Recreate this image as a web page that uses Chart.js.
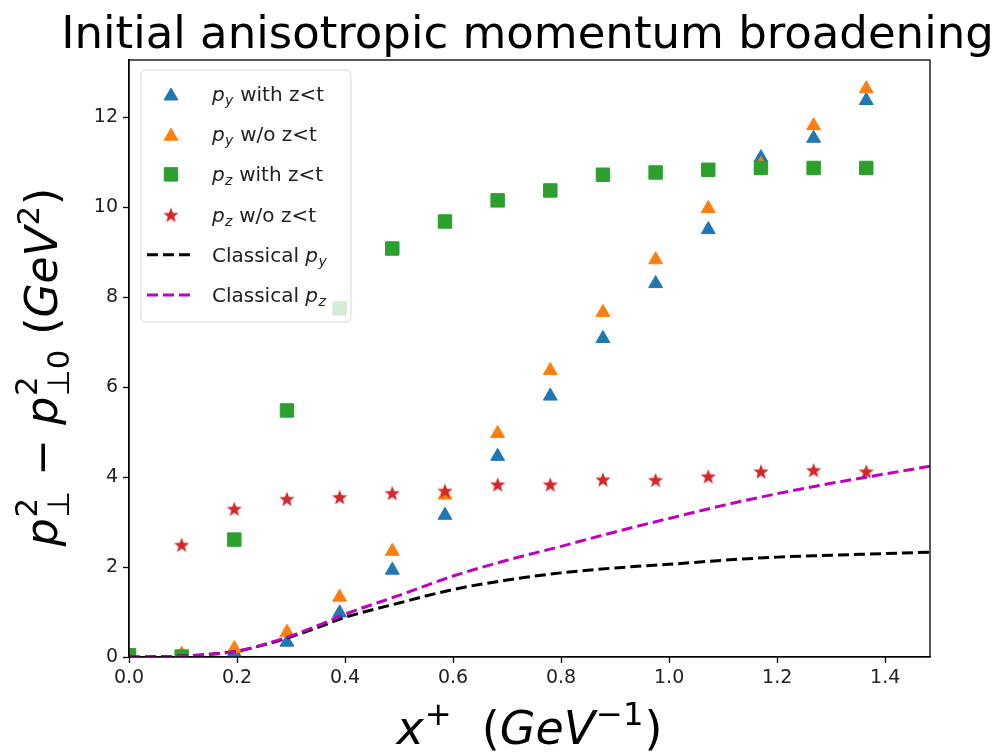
<!DOCTYPE html>
<html lang="en">
<head>
<meta charset="UTF-8" />
<title>Initial anisotropic momentum broadening</title>
<style>
  body { margin: 0; background: #fff; }
  canvas { display: block; }
</style>
</head>
<body>
<canvas id="myChart" width="997" height="752"></canvas>

<script src="https://cdn.jsdelivr.net/npm/chart.js"></script>
<script>
  // x+ (GeV^-1) where the markers sit
  const xPoints = [0, 0.0975, 0.195, 0.2925, 0.39, 0.4875, 0.585, 0.6825, 0.78, 0.8775, 0.975, 1.0725, 1.17, 1.2675, 1.365];
  const pyWith = [0, 0.02, 0.1, 0.33, 0.98, 1.93, 3.15, 4.46, 5.8, 7.08, 8.3, 9.5, 11.1, 11.53, 12.37];
  const pyWithout = [0, 0.06, 0.19, 0.55, 1.33, 2.35, 3.6, 4.97, 6.37, 7.66, 8.83, 9.97, 10.95, 11.81, 12.63];
  const pzWith = [0.04, 0.01, 2.61, 5.48, 7.75, 9.08, 9.68, 10.15, 10.37, 10.72, 10.77, 10.83, 10.87, 10.87, 10.87];
  const pzWithout = [0, 2.5, 3.3, 3.52, 3.56, 3.65, 3.7, 3.84, 3.84, 3.95, 3.94, 4.02, 4.13, 4.16, 4.13];

  // classical curves
  const curveX = [0, 0.05, 0.1, 0.15, 0.2, 0.25, 0.3, 0.35, 0.4, 0.5, 0.6, 0.7, 0.8, 0.9, 1.0, 1.1, 1.2, 1.3, 1.4, 1.483];
  const classicalPy = [0, 0.003, 0.02, 0.06, 0.13, 0.27, 0.45, 0.66, 0.88, 1.2, 1.5, 1.71, 1.87, 1.98, 2.06, 2.15, 2.22, 2.26, 2.3, 2.33];
  const classicalPz = [0, 0.003, 0.02, 0.06, 0.13, 0.28, 0.47, 0.7, 0.95, 1.37, 1.8, 2.15, 2.46, 2.78, 3.08, 3.37, 3.63, 3.86, 4.07, 4.24];

  const xTicks = [0, 0.2, 0.4, 0.6, 0.8, 1.0, 1.2, 1.4];
  const yTicks = [0, 2, 4, 6, 8, 10, 12];

  const BLUE = "#1f77b4", ORANGE = "#ff7f0e", GREEN = "#2ca02c", RED = "#d62728", MAG = "#bf00bf";
  const FONT = '"DejaVu Sans", sans-serif';
  const DASH = [11, 5];

  const toXY = (xs, ys) => xs.map((x, i) => ({ x: x, y: ys[i] }));

  // filled 5 point star like matplotlib's '*'
  function makeStar(r, color) {
    const c = document.createElement("canvas");
    const s = Math.ceil(r * 2 + 4);
    c.width = s; c.height = s;
    const g = c.getContext("2d");
    g.beginPath();
    for (let i = 0; i < 10; i++) {
      const a = -Math.PI / 2 + i * Math.PI / 5;
      const rr = i % 2 ? r * 0.42 : r;
      g.lineTo(s / 2 + rr * Math.cos(a), s / 2 + 1 + rr * Math.sin(a));
    }
    g.closePath();
    g.fillStyle = color;
    g.fill();
    return c;
  }
  const starImg = makeStar(8, RED);

  // small mathtext-ish renderer: segments of text, sub and superscripts
  function segFont(size, it) { return (it ? "italic " : "") + size + "px " + FONT; }
  function segsWidth(ctx, segs, size) {
    let w = 0;
    segs.forEach((s) => {
      if (s.t !== undefined) {
        ctx.font = segFont(size, s.it);
        w += ctx.measureText(s.t).width;
      } else {
        let a = 0, b = 0;
        if (s.sup) { ctx.font = segFont(size * 0.7, s.supIt); a = ctx.measureText(s.sup).width; }
        if (s.sub) { ctx.font = segFont(size * 0.7, s.subIt); b = ctx.measureText(s.sub).width; }
        w += Math.max(a, b) + size * 0.04;
      }
    });
    return w;
  }
  function drawSegs(ctx, segs, x, y, size) {
    ctx.textAlign = "left";
    ctx.textBaseline = "alphabetic";
    segs.forEach((s) => {
      if (s.t !== undefined) {
        ctx.font = segFont(size, s.it);
        ctx.fillText(s.t, x, y);
        x += ctx.measureText(s.t).width;
      } else {
        const both = s.sup && s.sub;
        let a = 0, b = 0;
        if (s.sup) {
          ctx.font = segFont(size * 0.7, s.supIt);
          ctx.fillText(s.sup, x + size * 0.02, y - size * (both ? 0.45 : 0.42));
          a = ctx.measureText(s.sup).width;
        }
        if (s.sub) {
          ctx.font = segFont(size * 0.7, s.subIt);
          ctx.fillText(s.sub, x + size * 0.02, y + size * (both ? 0.28 : 0.2));
          b = ctx.measureText(s.sub).width;
        }
        x += Math.max(a, b) + size * 0.04;
      }
    });
  }

  const legendItems = [
    { kind: "tri", color: BLUE, segs: [{ t: "p", it: true }, { sub: "y", subIt: true }, { t: " with z<t" }] },
    { kind: "tri", color: ORANGE, segs: [{ t: "p", it: true }, { sub: "y", subIt: true }, { t: " w/o z<t" }] },
    { kind: "rect", color: GREEN, segs: [{ t: "p", it: true }, { sub: "z", subIt: true }, { t: " with z<t" }] },
    { kind: "star", color: RED, segs: [{ t: "p", it: true }, { sub: "z", subIt: true }, { t: " w/o z<t" }] },
    { kind: "line", color: "#000", segs: [{ t: "Classical " }, { t: "p", it: true }, { sub: "y", subIt: true }] },
    { kind: "line", color: MAG, segs: [{ t: "Classical " }, { t: "p", it: true }, { sub: "z", subIt: true }] },
  ];

  const decorations = {
    id: "decorations",
    afterDraw(chart) {
      const ctx = chart.ctx;
      const a = chart.chartArea;
      ctx.save();

      // frame
      ctx.strokeStyle = "#000";
      ctx.lineWidth = 1.3;
      ctx.strokeRect(a.left, a.top, a.right - a.left, a.bottom - a.top);

      // title
      ctx.fillStyle = "#000";
      ctx.font = "45px " + FONT;
      ctx.textAlign = "center";
      ctx.textBaseline = "alphabetic";
      ctx.fillText("Initial anisotropic momentum broadening", (a.left + a.right) / 2 - 2, 48);

      // x label
      const xl = [{ t: "x", it: true }, { sup: "+" }, { t: "  (" }, { t: "GeV", it: true }, { sup: "\u22121" }, { t: ")" }];
      const xw = segsWidth(ctx, xl, 46);
      drawSegs(ctx, xl, (a.left + a.right) / 2 - xw / 2, 744, 46);

      // y label
      const yl = [
        { t: "p", it: true }, { sub: "\u22a5", sup: "2" }, { t: " \u2212 " },
        { t: "p", it: true }, { sub: "\u22a50", sup: "2" }, { t: " (" },
        { t: "GeV", it: true }, { sup: "2" }, { t: ")" },
      ];
      const yw = segsWidth(ctx, yl, 44);
      ctx.save();
      ctx.translate(57, 367);
      ctx.rotate(-Math.PI / 2);
      drawSegs(ctx, yl, -yw / 2, 0, 44);
      ctx.restore();

      // legend
      const lx = 141, ly = 70, lw = 210, lh = 252;
      ctx.beginPath();
      ctx.roundRect(lx, ly, lw, lh, 5);
      ctx.fillStyle = "rgba(255,255,255,0.8)";
      ctx.fill();
      ctx.strokeStyle = "rgba(204,204,204,0.8)";
      ctx.lineWidth = 1;
      ctx.stroke();

      legendItems.forEach((it, i) => {
        const cy = 94 + i * 40.2;
        ctx.fillStyle = it.color;
        ctx.strokeStyle = it.color;
        if (it.kind === "tri") {
          ctx.lineWidth = 1;
          Chart.helpers.drawPoint(ctx, { pointStyle: "triangle", radius: 8, borderWidth: 1 }, 171, cy + 2);
        } else if (it.kind === "rect") {
          ctx.lineWidth = 1;
          Chart.helpers.drawPoint(ctx, { pointStyle: "rect", radius: 9.5, borderWidth: 1 }, 171, cy);
        } else if (it.kind === "star") {
          ctx.drawImage(starImg, 171 - starImg.width / 2, cy - starImg.height / 2);
        } else {
          ctx.lineWidth = 3;
          ctx.setLineDash(DASH);
          ctx.beginPath();
          ctx.moveTo(147, cy);
          ctx.lineTo(194, cy);
          ctx.stroke();
          ctx.setLineDash([]);
        }
        ctx.fillStyle = "#222";
        drawSegs(ctx, it.segs, 212, cy + 7, 20);
      });

      ctx.restore();
    },
  };

  const markerSet = (label, ys, color, style, radius, order) => ({
    label: label,
    data: toXY(xPoints, ys),
    pointStyle: style,
    pointRadius: radius,
    pointBackgroundColor: color,
    pointBorderColor: color,
    pointBorderWidth: 1,
    showLine: false,
    order: order,
  });

  const lineSet = (label, ys, color, order) => ({
    label: label,
    data: toXY(curveX, ys),
    showLine: true,
    borderColor: color,
    borderWidth: 3,
    borderDash: DASH,
    pointRadius: 0,
    fill: false,
    cubicInterpolationMode: "monotone",
    order: order,
  });

  new Chart(document.getElementById("myChart"), {
    type: "scatter",
    data: {
      datasets: [
        markerSet("py with z<t", pyWith, BLUE, "triangle", 8, 5),
        markerSet("py w/o z<t", pyWithout, ORANGE, "triangle", 8, 4),
        markerSet("pz with z<t", pzWith, GREEN, "rect", 9.5, 3),
        markerSet("pz w/o z<t", pzWithout, RED, starImg, 8, 2),
        lineSet("Classical py", classicalPy, "#000", 1),
        lineSet("Classical pz", classicalPz, MAG, 0),
      ],
    },
    options: {
      responsive: false,
      animation: false,
      layout: { padding: { left: 0, right: 67, top: 60, bottom: 0 } },
      plugins: { legend: { display: false }, tooltip: { enabled: false }, title: { display: false } },
      scales: {
        x: {
          type: "linear",
          min: 0,
          max: 1.483,
          afterBuildTicks: (axis) => { axis.ticks = xTicks.map((v) => ({ value: v })); },
          afterFit: (s) => { s.height = 95; },
          ticks: {
            autoSkip: false,
            maxRotation: 0,
            padding: 4,
            color: "#222",
            font: { family: FONT, size: 19 },
            callback: (v) => Number(v).toFixed(1),
          },
          grid: { drawOnChartArea: false, drawTicks: true, tickLength: 6, color: "#000", tickWidth: 1.3 },
          border: { color: "#000", width: 1.3 },
        },
        y: {
          type: "linear",
          min: 0,
          max: 13.27,
          afterBuildTicks: (axis) => { axis.ticks = yTicks.map((v) => ({ value: v })); },
          afterFit: (s) => { s.width = 129; },
          ticks: {
            autoSkip: false,
            padding: 5,
            color: "#222",
            font: { family: FONT, size: 19 },
            callback: (v) => String(v),
          },
          grid: { drawOnChartArea: false, drawTicks: true, tickLength: 6, color: "#000", tickWidth: 1.3 },
          border: { color: "#000", width: 1.3 },
        },
      },
    },
    plugins: [decorations],
  });
</script>
</body>
</html>
